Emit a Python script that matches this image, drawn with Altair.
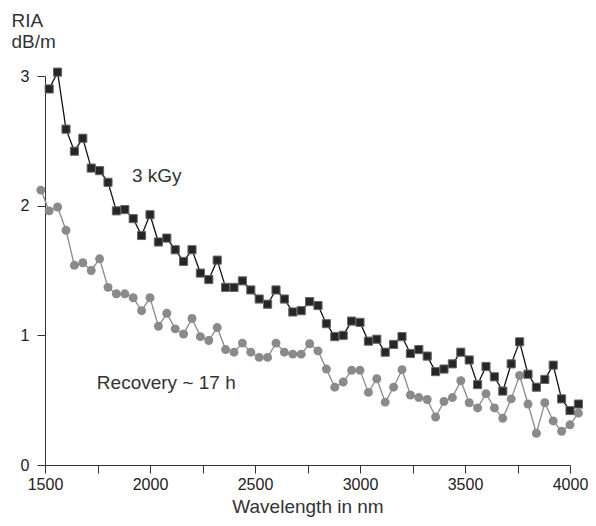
import altair as alt
import pandas as pd

# 3 kGy series (black squares)
wl_kgy = [1520, 1560, 1600, 1640, 1680, 1720, 1760, 1800, 1840, 1880,
          1920, 1960, 2000, 2040, 2080, 2120, 2160, 2200, 2240, 2280,
          2320, 2360, 2400, 2440, 2480, 2520, 2560, 2600, 2640, 2680,
          2720, 2760, 2800, 2840, 2880, 2920, 2960, 3000, 3040, 3080,
          3120, 3160, 3200, 3240, 3280, 3320, 3360, 3400, 3440, 3480,
          3520, 3560, 3600, 3640, 3680, 3720, 3760, 3800, 3840, 3880,
          3920, 3960, 4000, 4040]
ria_kgy = [2.90, 3.03, 2.59, 2.42, 2.52, 2.29, 2.27, 2.18, 1.96, 1.97,
           1.90, 1.77, 1.93, 1.72, 1.75, 1.66, 1.57, 1.66, 1.48, 1.43,
           1.58, 1.37, 1.37, 1.42, 1.35, 1.28, 1.24, 1.35, 1.28, 1.18,
           1.19, 1.26, 1.23, 1.09, 0.99, 1.00, 1.11, 1.10, 0.955, 0.97,
           0.87, 0.93, 0.99, 0.86, 0.89, 0.84, 0.72, 0.74, 0.78, 0.87,
           0.81, 0.62, 0.76, 0.68, 0.57, 0.78, 0.95, 0.70, 0.60, 0.66,
           0.77, 0.51, 0.42, 0.47]

# Recovery ~ 17 h series (gray circles)
wl_rec = [1480, 1520, 1560, 1600, 1640, 1680, 1720, 1760, 1800, 1840,
          1880, 1920, 1960, 2000, 2040, 2080, 2120, 2160, 2200, 2240,
          2280, 2320, 2360, 2400, 2440, 2480, 2520, 2560, 2600, 2640,
          2680, 2720, 2760, 2800, 2840, 2880, 2920, 2960, 3000, 3040,
          3080, 3120, 3160, 3200, 3240, 3280, 3320, 3360, 3400, 3440,
          3480, 3520, 3560, 3600, 3640, 3680, 3720, 3760, 3800, 3840,
          3880, 3920, 3960, 4000, 4040]
ria_rec = [2.12, 1.96, 1.99, 1.81, 1.54, 1.56, 1.50, 1.59, 1.37, 1.32,
           1.32, 1.29, 1.19, 1.29, 1.07, 1.17, 1.05, 1.01, 1.13, 0.99,
           0.96, 1.06, 0.89, 0.87, 0.94, 0.87, 0.83, 0.83, 0.94, 0.87,
           0.855, 0.855, 0.935, 0.88, 0.74, 0.60, 0.64, 0.73, 0.73, 0.56,
           0.665, 0.485, 0.60, 0.735, 0.54, 0.52, 0.505, 0.37, 0.49, 0.52,
           0.65, 0.48, 0.44, 0.55, 0.44, 0.36, 0.51, 0.69, 0.47, 0.245,
           0.48, 0.34, 0.26, 0.31, 0.40]

x_ticks = [1500, 1750, 2000, 2250, 2500, 2750, 3000, 3250, 3500, 3750, 4000]
y_ticks = [0, 0.5, 1, 1.5, 2, 2.5, 3]

ann_text = ["3 kGy", "Recovery ~ 17 h"]
ann_x = [1914, 1747]
ann_y = [2.23, 0.63]

df_k = pd.DataFrame({"wl": wl_kgy, "ria": ria_kgy})
df_r = pd.DataFrame({"wl": wl_rec, "ria": ria_rec})
df_a = pd.DataFrame({"wl": ann_x, "ria": ann_y, "txt": ann_text})

FONT = "Liberation Sans"

xs = alt.Scale(domain=[1500, 4000], nice=False, zero=False)
ys = alt.Scale(domain=[0, 3], nice=False, zero=False)

x_axis = alt.Axis(
    values=x_ticks, format="d",
    labelExpr="datum.value % 500 == 0 ? datum.label : ''",
    labelFlush=False, labelOverlap=False, labelBound=False,
    title="Wavelength in nm", grid=False,
    tickSize=8, tickColor="#333", domainColor="#333",
    labelFont=FONT, labelFontSize=16, labelColor="#222", labelPadding=3,
    titleFont=FONT, titleFontSize=19, titleFontWeight="normal",
    titleColor="#333", titlePadding=5,
)
y_axis = alt.Axis(
    values=y_ticks, format="d",
    labelExpr="datum.value % 1 == 0 ? datum.label : ''",
    labelFlush=False, labelOverlap=False,
    title=["RIA", "dB/m"], grid=False,
    tickSize=8, tickColor="#333", domainColor="#333",
    labelFont=FONT, labelFontSize=16, labelColor="#222", labelPadding=8,
    titleFont=FONT, titleFontSize=19, titleFontWeight="normal",
    titleColor="#333", titleAngle=0, titleAlign="left",
    titleBaseline="alphabetic", titleX=-34, titleY=-50, titleLineHeight=21,
)

X = alt.X("wl:Q", scale=xs, axis=x_axis)
Y = alt.Y("ria:Q", scale=ys, axis=y_axis)

rec_line = alt.Chart(df_r).mark_line(color="#8a8a8a", strokeWidth=1.3).encode(x=X, y=Y)
rec_pts = alt.Chart(df_r).mark_circle(color="#8a8a8a", size=80, opacity=1).encode(x=X, y=Y)
k_line = alt.Chart(df_k).mark_line(color="#111", strokeWidth=1.3).encode(x=X, y=Y)
k_pts = alt.Chart(df_k).mark_point(
    shape="square", filled=True, size=66, fill="#262626",
    stroke="#666", strokeWidth=1, opacity=1
).encode(x=X, y=Y)
ann = alt.Chart(df_a).mark_text(
    align="left", baseline="middle", font=FONT, fontSize=19, color="#333"
).encode(x=alt.X("wl:Q", scale=xs), y=alt.Y("ria:Q", scale=ys), text="txt:N")

chart = alt.layer(rec_line, rec_pts, k_line, k_pts, ann).properties(
    width=525, height=389,
    autosize=alt.AutoSizeParams(type="none"),
    padding={"left": 37, "top": 68, "right": 18, "bottom": 58},
).configure_view(stroke=None)

chart.save("out.html", embed_options={"renderer": "svg", "actions": False})
